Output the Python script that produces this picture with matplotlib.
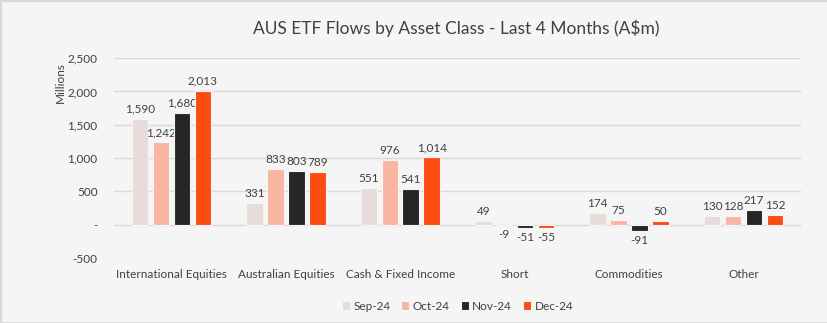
import numpy as np
import matplotlib.pyplot as plt

categories = ['International Equities', 'Australian Equities', 'Cash & Fixed Income',
              'Short', 'Commodities', 'Other']
months = ['Sep-24', 'Oct-24', 'Nov-24', 'Dec-24']
sep24 = [1590, 331, 551, 49, 174, 130]
oct24 = [1242, 833, 976, -9, 75, 128]
nov24 = [1680, 803, 541, -51, -91, 217]
dec24 = [2013, 789, 1014, -55, 50, 152]
colors = ['#e8dcda', '#f9b6a1', '#262626', '#fc4c13']

plt.rcParams['font.family'] = ['Lato', 'DejaVu Sans']
txt = '#404040'

fig = plt.figure(figsize=(8.28, 3.23), dpi=100, facecolor='#f5f5f5',
                 edgecolor='#d9d9d9', linewidth=2)
ax = fig.add_axes([0.138, 0.201, 0.829, 0.619])
ax.set_facecolor('#f5f5f5')

x = np.arange(len(categories))
w = 0.145
step = 0.183
series = [sep24, oct24, nov24, dec24]
for i, (vals, c, m) in enumerate(zip(series, colors, months)):
    pos = x + (i - 1.5) * step
    ax.bar(pos, vals, width=w, color=c, edgecolor='#f5f5f5', linewidth=0.8,
           label=m, zorder=3)
    for px, v in zip(pos, vals):
        if v >= 0:
            ax.text(px, v + 60, f'{v:,}', ha='center', va='bottom', fontsize=8.5, color=txt)
        else:
            ax.text(px, v - 60, f'{v:,}', ha='center', va='top', fontsize=8.5, color=txt)

ax.set_ylim(-500, 2500)
ax.set_xlim(-0.5, len(categories) - 0.5)
yt = [-500, 0, 500, 1000, 1500, 2000, 2500]
ax.set_yticks(yt)
ax.set_yticklabels(['-500', '-', '500', '1,000', '1,500', '2,000', '2,500'])
ax.set_xticks(x)
ax.set_xticklabels(categories)
ax.tick_params(length=0, labelsize=8.5, colors=txt)
ax.tick_params(axis='y', pad=12)
ax.tick_params(axis='x', pad=8)
ax.grid(axis='y', color='#d9d9d9', linewidth=1, zorder=0)
for s in ax.spines.values():
    s.set_visible(False)
ax.text(-0.079, 0.88, 'Millions', transform=ax.transAxes, rotation=90,
        ha='center', va='center', fontsize=8.5, color=txt)

fig.text(0.551, 0.913, 'AUS ETF Flows by Asset Class - Last 4 Months (A$m)',
         ha='center', va='center', fontsize=12.5, color=txt)
ax.legend(loc='upper center', bbox_to_anchor=(0.5, -0.16), ncol=4, frameon=False,
          fontsize=8.5, labelcolor=txt, handlelength=0.7, handleheight=0.7,
          handletextpad=0.3, columnspacing=0.9)

fig.savefig('out.png', dpi=100, facecolor=fig.get_facecolor(), edgecolor=fig.get_edgecolor())
